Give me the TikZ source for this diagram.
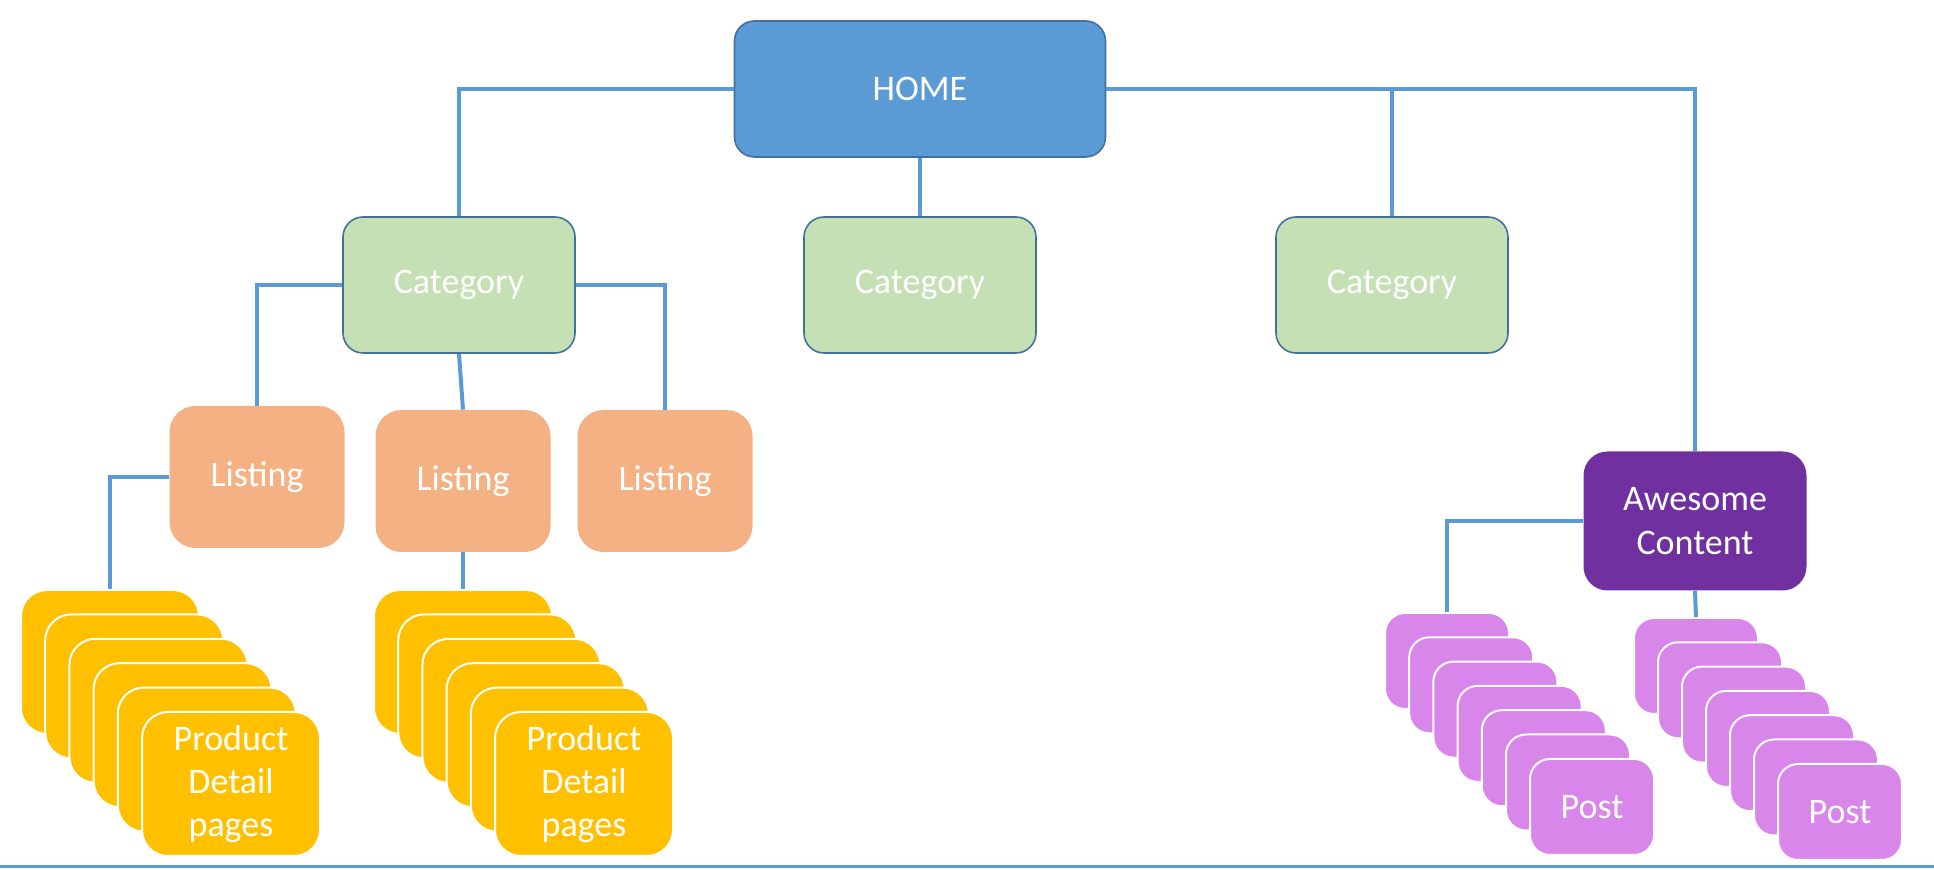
\documentclass[tikz,border=0pt]{standalone}
\usepackage{fontspec}
\setmainfont{Carlito}
\usepackage{tikz}

\definecolor{homeblue}{HTML}{5B9BD5}
\definecolor{edgeblue}{HTML}{41719C}
\definecolor{catgreen}{HTML}{C5E0B4}
\definecolor{listorange}{HTML}{F4B183}
\definecolor{prodgold}{HTML}{FFC000}
\definecolor{awepurple}{HTML}{7030A0}
\definecolor{postpink}{HTML}{D886E9}

\begin{document}
\begin{tikzpicture}[x=0.5pt,y=-0.5pt,
    box/.style={rounded corners=10pt,text=white,align=center,inner sep=0pt,
      font=\fontsize{18}{22}\selectfont},
    homebox/.style={box,fill=homeblue,draw=edgeblue,line width=0.8pt,minimum width=185.5pt,minimum height=68pt},
    catbox/.style={box,fill=catgreen,draw=edgeblue,line width=0.8pt,minimum width=116pt,minimum height=68pt},
    listbox/.style={box,rounded corners=13pt,fill=listorange,minimum width=87.5pt,minimum height=71pt},
    awebox/.style={box,rounded corners=12pt,fill=awepurple,minimum width=111.5pt,minimum height=69.5pt},
    prodcard/.style={box,rounded corners=13pt,fill=prodgold,draw=white,line width=1pt,
      minimum width=89pt,minimum height=72pt,font=\fontsize{18}{21.5}\selectfont},
    postcard/.style={box,fill=postpink,draw=white,line width=1pt,minimum width=62pt,minimum height=48pt},
    link/.style={homeblue,line width=2pt}]
      \useasboundingbox (0,0) rectangle (1934,870);

      \node[homebox] (h) at (920,89) {HOME};

      \node[catbox] (c1) at (459,285) {Category};
      \node[catbox] (c2) at (920,285) {Category};
      \node[catbox] (c3) at (1392,285) {Category};

      \node[listbox] (l1) at (257,477) {Listing};
      \node[listbox] (l2) at (463,481) {Listing};
      \node[listbox] (l3) at (665,481) {Listing};

      \node[awebox] (a) at (1695,521) {Awesome\\Content};

      % stacks of pages, back to front
      \foreach \i in {0,...,4} {
        \node[prodcard] (pa\i) at (110+24.2*\i,662+24.4*\i) {};
        \node[prodcard] (pb\i) at (463+24.2*\i,662+24.4*\i) {};
      }
      \node[prodcard] (pa5) at (231,784) {Product\\Detail\\pages};
      \node[prodcard] (pb5) at (584,784) {Product\\Detail\\pages};

      \foreach \i in {0,...,5} {
        \node[postcard] (qa\i) at (1447+24.2*\i,661+24.3*\i) {};
        \node[postcard] (qb\i) at (1696+24*\i,666+24.3*\i) {};
      }
      \node[postcard] (qa6) at (1592,807) {Post};
      \node[postcard] (qb6) at (1840,812) {Post};

      \draw[link] (h.west) -| (c1.north);
      \draw[link] (h.south) -- (c2.north);
      \draw[link] (h.east) -| (a.north);
      \draw[link] (c3.north |- h.east) -- (c3.north);

      \draw[link] (c1.west) -| (l1.north);
      \draw[link] (c1.south) -- (l2.north);
      \draw[link] (c1.east) -| (l3.north);

      \draw[link] (l1.west) -| (pa0.north);
      \draw[link] (l2.south) -- (pb0.north);

      \draw[link] (a.west) -| (qa0.north);
      \draw[link] (a.south) -- (qb0.north);

      \coordinate (bl) at (0,867);
      \coordinate (br) at (1934,867);
      \draw[homeblue,line width=1.5pt] (bl) -- (br);
    \end{tikzpicture}
\end{document}
